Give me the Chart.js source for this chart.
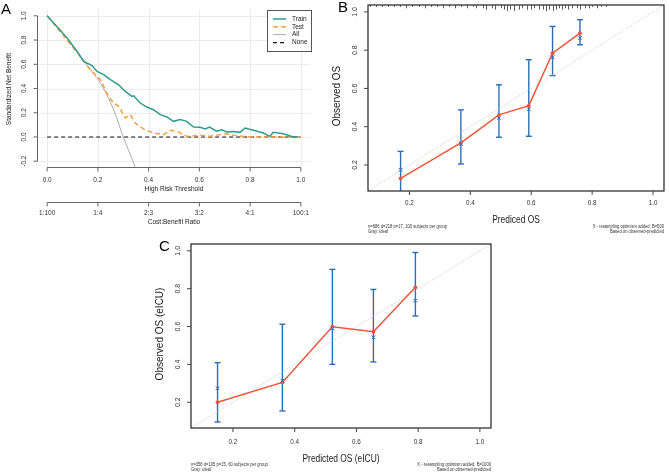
<!DOCTYPE html>
<html>
<head>
<meta charset="utf-8">
<script src="https://cdn.jsdelivr.net/npm/chart.js@4.4.0/dist/chart.umd.min.js"></script>
<style>
  html, body { margin: 0; padding: 0; background: #fff; }
  #wrap { position: relative; width: 669px; height: 472px; overflow: hidden; }
  canvas { position: absolute; }
</style>
</head>
<body>
<div id="wrap">
  <canvas id="chartA" width="330" height="232" style="left:0;top:0"></canvas>
  <canvas id="chartB" width="339" height="240" style="left:330px;top:0"></canvas>
  <canvas id="chartC" width="360" height="238" style="left:140px;top:234px"></canvas>
</div>
<script>
// ---- panel A: decision curve ----
const seriesA = ['Train', 'Test', 'All', 'None'];
const trainX = [0, 0.079, 0.118, 0.144, 0.177, 0.197, 0.223, 0.249, 0.282, 0.308, 0.334, 0.341, 0.367, 0.393, 0.419, 0.446, 0.472, 0.498, 0.524, 0.55, 0.577, 0.603, 0.623, 0.64, 0.668, 0.688, 0.708, 0.734, 0.76, 0.78, 0.813, 0.852, 0.878, 0.891, 0.931, 0.97, 0.99];
const trainY = [1.0, 0.816, 0.706, 0.624, 0.59, 0.541, 0.514, 0.473, 0.431, 0.376, 0.335, 0.34, 0.28, 0.247, 0.225, 0.184, 0.165, 0.129, 0.143, 0.129, 0.082, 0.08, 0.066, 0.082, 0.047, 0.06, 0.041, 0.044, 0.038, 0.074, 0.055, 0.033, 0.005, 0.038, 0.027, 0.0, 0.0];
const testX = [0, 0.118, 0.17, 0.197, 0.216, 0.229, 0.242, 0.262, 0.282, 0.308, 0.328, 0.347, 0.38, 0.419, 0.459, 0.485, 0.511, 0.55, 0.603, 0.642, 0.708, 0.734, 0.8, 1.0];
const testY = [1.0, 0.698, 0.555, 0.5, 0.459, 0.385, 0.335, 0.28, 0.253, 0.157, 0.184, 0.115, 0.066, 0.033, 0.019, 0.055, 0.047, 0.005, 0.014, 0.005, 0.027, 0.014, 0.0, 0.0];
const allX = [0, 0.08, 0.12, 0.15, 0.18, 0.21, 0.262, 0.3, 0.343, 0.36];
const allY = [1.0, 0.815, 0.70, 0.615, 0.53, 0.445, 0.225, 0.0, -0.228, -0.33];
const noneX = [0, 1];
const noneY = [0, 0];
const threshTicks = [0, 0.2, 0.4, 0.6, 0.8, 1.0];
const costLabels = ['1:100', '1:4', '2:3', '3:2', '4:1', '100:1'];
const benefitTicks = [-0.2, 0, 0.2, 0.4, 0.6, 0.8, 1.0];

// ---- panel B: calibration, training ----
const predB = [0.171, 0.369, 0.494, 0.592, 0.67, 0.76];
const obsB = [0.13, 0.315, 0.462, 0.51, 0.784, 0.889];
const corrB = [0.175, 0.31, 0.446, 0.491, 0.763, 0.863];
const lowB = [0.03, 0.205, 0.345, 0.35, 0.667, 0.828];
const highB = [0.271, 0.488, 0.619, 0.75, 0.924, 0.959];
const rugX = [0.07, 0.09, 0.11, 0.13, 0.15, 0.17, 0.19, 0.21, 0.23, 0.25, 0.27, 0.29, 0.31, 0.33, 0.35, 0.37, 0.39, 0.41, 0.42, 0.44, 0.45, 0.47, 0.48, 0.50, 0.51, 0.52, 0.53, 0.545, 0.56, 0.57, 0.585, 0.60, 0.61, 0.625, 0.64, 0.65, 0.66, 0.67, 0.68, 0.69, 0.70, 0.71, 0.72, 0.735, 0.75, 0.76, 0.775, 0.79, 0.80, 0.815, 0.83, 0.845];
const rugCount = [1, 1, 1, 1, 1, 1, 2, 1, 1, 2, 1, 1, 2, 1, 2, 1, 2, 1, 2, 2, 3, 2, 3, 2, 3, 4, 3, 4, 3, 2, 3, 3, 2, 3, 3, 4, 3, 4, 3, 2, 3, 2, 3, 2, 2, 3, 2, 2, 1, 2, 1, 1];
const noteB = ['n=686 d=218 p=17, 100 subjects per group', 'Gray: ideal'];
const noteB2 = ['X - resampling optimism added, B=500', 'Based on observed-predicted'];

// ---- panel C: calibration, eICU ----
const predC = [0.150, 0.36, 0.522, 0.655, 0.791];
const obsC = [0.2, 0.305, 0.599, 0.573, 0.807];
const corrC = [0.274, 0.314, 0.59, 0.543, 0.736];
const lowC = [0.096, 0.154, 0.40, 0.413, 0.656];
const highC = [0.409, 0.612, 0.902, 0.796, 0.991];
const noteC = ['n=358 d=105 p=15, 60 subjects per group', 'Gray: ideal'];
const noteC2 = ['X - resampling optimism added, B=1000', 'Based on observed-predicted'];

const calTicks = [0.2, 0.4, 0.6, 0.8, 1.0];
const idealLine = [0, 1.1];

const FONT = "'Liberation Sans', Arial, Helvetica, sans-serif";
const RED = '#EE553B';
const BLUE = '#2D6DB5';

function pts(xs, ys) {
    return xs.map((x, i) => ({ x: x, y: ys[i] }));
}

function put(ctx, s, x, y, o) {
    ctx.save();
    ctx.font = (o.size || 7) + 'px ' + FONT;
    ctx.fillStyle = o.color || '#222';
    ctx.textAlign = o.align || 'center';
    ctx.textBaseline = o.base || 'middle';
    ctx.translate(x, y);
    if (o.rot) {
        ctx.rotate(-Math.PI / 2);
        ctx.scale(1, o.sx || 1);
    } else {
        ctx.scale(o.sx || 1, 1);
    }
    ctx.fillText(s, 0, 0);
    ctx.restore();
}

function line(ctx, x1, y1, x2, y2) {
    ctx.beginPath();
    ctx.moveTo(x1, y1);
    ctx.lineTo(x2, y2);
    ctx.stroke();
}

function baseOptions(pad, xr, yr) {
    return {
        responsive: false,
        animation: false,
        devicePixelRatio: 1,
        layout: { padding: pad },
        plugins: { legend: { display: false }, tooltip: { enabled: false } },
        scales: {
            x: { type: 'linear', min: xr[0], max: xr[1], display: false },
            y: { type: 'linear', min: yr[0], max: yr[1], display: false }
        }
    };
}

// ---------- A ----------
const panelA = {
    id: 'panelA',
    beforeDatasetsDraw(chart) {
        const { ctx, chartArea: a, scales: { x, y } } = chart;
        ctx.save();
        ctx.strokeStyle = '#ececec';
        ctx.lineWidth = 1;
        threshTicks.forEach(v => {
            const px = Math.round(x.getPixelForValue(v)) + 0.5;
            line(ctx, px, a.top, px, a.bottom);
        });
        benefitTicks.forEach(v => {
            const py = Math.round(y.getPixelForValue(v)) + 0.5;
            line(ctx, a.left, py, a.right, py);
        });
        ctx.restore();
    },
    afterDraw(chart) {
        const { ctx, chartArea: a, scales: { x, y } } = chart;
        ctx.save();
        ctx.strokeStyle = '#666';
        ctx.lineWidth = 1;
        // y axis
        const ax = a.left + 0.5;
        line(ctx, ax, y.getPixelForValue(1), ax, y.getPixelForValue(-0.2));
        benefitTicks.forEach(v => {
            const py = y.getPixelForValue(v);
            line(ctx, ax - 4, py, ax, py);
            put(ctx, v.toFixed(1), 24, py, { size: 6.5, rot: true, color: '#333' });
        });
        put(ctx, 'Standardized Net Benefit', 9, 89, { size: 6.5, rot: true, color: '#222' });
        // threshold axis
        const ay = a.bottom + 0.5;
        line(ctx, x.getPixelForValue(0), ay, x.getPixelForValue(1), ay);
        threshTicks.forEach(v => {
            const px = x.getPixelForValue(v);
            line(ctx, px, ay, px, ay + 4);
            put(ctx, v.toFixed(1), px, 180, { size: 6.5, color: '#333' });
        });
        put(ctx, 'High Risk Threshold', x.getPixelForValue(0.5), 189.5, { size: 6.5 });
        // cost:benefit axis
        const by = 202.5;
        line(ctx, x.getPixelForValue(0), by, x.getPixelForValue(1), by);
        threshTicks.forEach((v, i) => {
            const px = x.getPixelForValue(v);
            line(ctx, px, by, px, by + 4);
            put(ctx, costLabels[i], px, 213.5, { size: 6.5, color: '#333' });
        });
        put(ctx, 'Cost:Benefit Ratio', x.getPixelForValue(0.5), 222, { size: 6.5 });

        // legend
        ctx.fillStyle = '#fff';
        ctx.fillRect(267, 10, 44, 41);
        ctx.strokeStyle = '#555';
        ctx.strokeRect(267.5, 10.5, 44, 41);
        const rows = [19, 26.8, 34.6, 42.6];
        seriesA.forEach((name, i) => {
            const ds = chart.data.datasets.find(d => d.label === name);
            ctx.strokeStyle = ds.borderColor;
            ctx.lineWidth = ds.borderWidth;
            ctx.setLineDash(ds.borderDash || []);
            line(ctx, 273, rows[i], 286, rows[i]);
            ctx.setLineDash([]);
            put(ctx, name, 292, rows[i], { size: 6.5, align: 'left', color: '#222' });
        });
        put(ctx, 'A', 1, 13.5, { size: 15, align: 'left', base: 'alphabetic', color: '#000' });
        ctx.restore();
    }
};

new Chart(document.getElementById('chartA'), {
    type: 'scatter',
    data: {
        datasets: [
            { label: 'Train', data: pts(trainX, trainY), showLine: true, borderColor: '#2E9B8D', borderWidth: 1.5, pointRadius: 0 },
            { label: 'Test', data: pts(testX, testY), showLine: true, borderColor: '#F5A243', borderWidth: 1.5, borderDash: [5, 3], pointRadius: 0 },
            { label: 'None', data: pts(noneX, noneY), showLine: true, borderColor: '#111', borderWidth: 1.1, borderDash: [4, 3], pointRadius: 0 },
            { label: 'All', data: pts(allX, allY), showLine: true, borderColor: '#ababab', borderWidth: 1, pointRadius: 0, cubicInterpolationMode: 'monotone' }
        ]
    },
    options: baseOptions({ left: 37, right: 19, top: 10, bottom: 65 }, [-0.04, 1.04], [-0.248, 1.048]),
    plugins: [panelA]
});

// ---------- calibration panels ----------
function calPanel(cfg) {
    return {
        id: 'cal' + cfg.tag,
        beforeDatasetsDraw(chart) {
            const { ctx, chartArea: a, scales: { x, y } } = chart;
            ctx.save();
            ctx.beginPath();
            ctx.rect(a.left, a.top, a.right - a.left, a.bottom - a.top);
            ctx.clip();
            ctx.strokeStyle = BLUE;
            ctx.lineWidth = 1.4;
            cfg.pred.forEach((v, i) => {
                const px = x.getPixelForValue(v);
                const y1 = y.getPixelForValue(cfg.low[i]);
                const y2 = y.getPixelForValue(cfg.high[i]);
                line(ctx, px, y1, px, y2);
                line(ctx, px - 3, y1, px + 3, y1);
                line(ctx, px - 3, y2, px + 3, y2);
            });
            ctx.restore();
        },
        afterDraw(chart) {
            const { ctx, chartArea: a, scales: { x, y } } = chart;
            ctx.save();
            ctx.strokeStyle = '#222';
            ctx.lineWidth = 1.2;
            ctx.strokeRect(a.left, a.top, a.right - a.left, a.bottom - a.top);
            ctx.lineWidth = 1;
            ctx.strokeStyle = '#444';
            calTicks.forEach(v => {
                const px = x.getPixelForValue(v);
                line(ctx, px, a.bottom, px, a.bottom + 4);
                put(ctx, v.toFixed(1), px, cfg.xLabY, { size: 7, sx: 0.9, color: '#333' });
                const py = y.getPixelForValue(v);
                line(ctx, a.left - 4, py, a.left, py);
                put(ctx, v.toFixed(1), cfg.yLabX, py, { size: 7, rot: true, color: '#333' });
            });
            put(ctx, cfg.xTitle, (a.left + a.right) / 2, cfg.xTitleY, { size: 10, sx: 0.84, color: '#222' });
            put(ctx, cfg.yTitle, cfg.yTitleX, (a.top + a.bottom) / 2 - 2, { size: 10, rot: true, color: '#222' });
            cfg.noteL.forEach((s, i) => put(ctx, s, a.left, cfg.noteY + i * 5.3, { size: 4.6, sx: 0.9, align: 'left', color: '#333' }));
            cfg.noteR.forEach((s, i) => put(ctx, s, a.right, cfg.noteY + i * 5.3, { size: 4.6, sx: 0.9, align: 'right', color: '#333' }));
            if (cfg.rugX) {
                ctx.strokeStyle = '#333';
                ctx.lineWidth = 0.8;
                cfg.rugX.forEach((v, i) => {
                    const px = Math.round(x.getPixelForValue(v)) + 0.5;
                    line(ctx, px, a.top, px, a.top + 0.5 + cfg.rugN[i] * 1.4);
                });
            }
            put(ctx, cfg.tag, cfg.tagX, cfg.tagY, { size: 15, align: 'left', base: 'alphabetic', color: '#000' });
            ctx.restore();
        }
    };
}

function calChart(id, pad, pred, obs, corr, plugin) {
    return new Chart(document.getElementById(id), {
        type: 'scatter',
        data: {
            datasets: [
                { data: pts(pred, corr), showLine: false, pointStyle: 'crossRot', pointRadius: 2.6, borderColor: BLUE, borderWidth: 1 },
                { data: pts(pred, obs), showLine: true, borderColor: RED, borderWidth: 1.5, pointRadius: 1.9, pointBackgroundColor: RED, pointBorderWidth: 0 },
                { data: pts(idealLine, idealLine), showLine: true, borderColor: '#c4c4c4', borderWidth: 0.8, borderDash: [1.5, 1.5], pointRadius: 0 }
            ]
        },
        options: baseOptions(pad, [0.064, 1.036], [0.064, 1.036]),
        plugins: [plugin]
    });
}

calChart('chartB', { left: 38, right: 1, top: 5, bottom: 49 }, predB, obsB, corrB, calPanel({
    tag: 'B', tagX: 8, tagY: 11.5,
    pred: predB, low: lowB, high: highB,
    xLabY: 203, xTitle: 'Prediced OS', xTitleY: 220,
    yLabX: 25, yTitle: 'Observed OS', yTitleX: 7.5,
    noteL: noteB, noteR: noteB2, noteY: 226.5,
    rugX: rugX, rugN: rugCount
}));

calChart('chartC', { left: 51, right: 9, top: 10, bottom: 44 }, predC, obsC, corrC, calPanel({
    tag: 'C', tagX: 19, tagY: 16.5,
    pred: predC, low: lowC, high: highC,
    xLabY: 208, xTitle: 'Predicted OS (eICU)', xTitleY: 225,
    yLabX: 38, yTitle: 'Observed OS (eICU)', yTitleX: 20,
    noteL: noteC, noteR: noteC2, noteY: 230.5
}));
</script>
</body>
</html>
